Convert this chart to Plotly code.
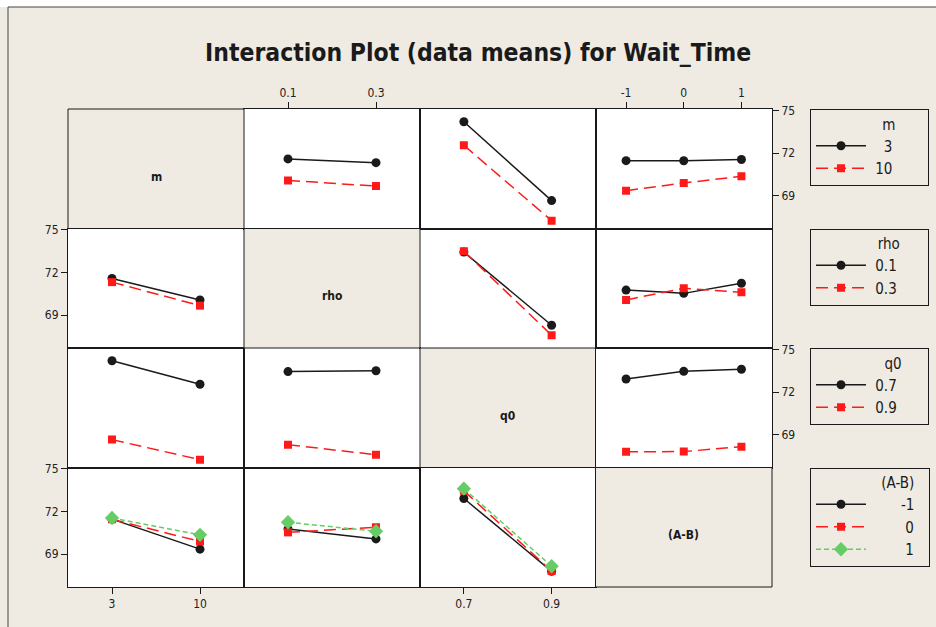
import plotly.graph_objects as go

W, H = 936, 627

# ---------------- data (means) ----------------
factors = ["m", "rho", "q0", "(A-B)"]
m_levels = ["3", "10"]
rho_levels = ["0.1", "0.3"]
q0_levels = ["0.7", "0.9"]
ab_levels = ["-1", "0", "1"]
levels = [m_levels, rho_levels, q0_levels, ab_levels]

# pair means: rows = levels of first factor, cols = levels of second factor
m_rho = [[71.59, 71.33], [70.08, 69.68]]
m_q0 = [[74.20, 68.66], [72.55, 67.25]]
m_ab = [[71.47, 71.46, 71.55], [69.36, 69.90, 70.37]]
rho_q0 = [[73.44, 68.30], [73.50, 67.60]]
rho_ab = [[70.77, 70.54, 71.25], [70.08, 70.90, 70.62]]
q0_ab = [[72.92, 73.46, 73.61], [67.80, 67.82, 68.16]]

y_ticks = [69, 72, 75]

pairs = {(0, 1): m_rho, (0, 2): m_q0, (0, 3): m_ab,
         (1, 2): rho_q0, (1, 3): rho_ab, (2, 3): q0_ab}


def means(r, c):
    if (r, c) in pairs:
        return pairs[(r, c)]
    t = pairs[(c, r)]
    return [list(col) for col in zip(*t)]


# ---------------- styling / geometry ----------------
BEIGE = "#efebe3"
INK = "#1a1a1a"
FAM = "DejaVu Sans Condensed, Liberation Sans, sans-serif"
TICKFONT = dict(family=FAM, size=12, color="#222")
LEGFONT = dict(family=FAM, size=15, color="#1a1a1a")
styles = [
    dict(color="#1a1a1a", dash="solid", symbol="circle", size=9),
    dict(color="#ff1a1a", dash="12px,6px", symbol="square", size=8),
    dict(color="#66cc66", dash="5px,3px", symbol="diamond", size=11),
]
NB = "\u00a0"
# (leading, trailing) non-breaking-space padding per legend, to mimic the right-aligned labels
leg_pad = {0: {"3": (3, 7), "10": (1, 7)},
           1: {"0.1": (1, 6), "0.3": (1, 6)},
           2: {"0.7": (1, 6), "0.9": (1, 6)},
           3: {"-1": (7, 2), "0": (8, 2), "1": (8, 2)}}
title_pad = [9, 9, 11, 13]

colx = [68, 244, 420, 595.5, 772]
rowy = [109, 228.5, 348, 467.5, 587]
YR = [66.7, 75.1]


def px_x(v):
    return v / W


def px_y(v):
    return 1 - v / H


fig = go.Figure()
layout = dict(
    width=W, height=H,
    margin=dict(l=0, r=0, t=0, b=0, autoexpand=False),
    paper_bgcolor=BEIGE, plot_bgcolor="white",
    showlegend=True,
)
shapes = []
annotations = []

k = 0
legend_done = set()
for r in range(4):
    for c in range(4):
        if r == c:
            shapes.append(dict(type="rect", xref="paper", yref="paper",
                               x0=px_x(colx[c]), x1=px_x(colx[c + 1]),
                               y0=px_y(rowy[r + 1]), y1=px_y(rowy[r]),
                               fillcolor=BEIGE, line=dict(color=INK, width=1)))
            annotations.append(dict(text="<b>%s</b>" % factors[r], xref="paper", yref="paper",
                                    x=px_x((colx[c] + colx[c + 1]) / 2),
                                    y=px_y((rowy[r] + rowy[r + 1]) / 2 + 8),
                                    xanchor="center", yanchor="middle",
                                    showarrow=False,
                                    font=dict(family=FAM, size=12, color=INK)))
            continue
        k += 1
        xa = "xaxis" if k == 1 else "xaxis%d" % k
        ya = "yaxis" if k == 1 else "yaxis%d" % k
        xr = "x" if k == 1 else "x%d" % k
        yr = "y" if k == 1 else "y%d" % k
        nx = len(levels[c])
        xpos = list(range(1, nx + 1))
        xrange = [0.5, 2.5] if nx == 2 else [0.47, 3.53]

        xcfg = dict(domain=[px_x(colx[c]), px_x(colx[c + 1])], anchor=yr, range=xrange,
                    showline=True, mirror=True, linecolor=INK, linewidth=1,
                    showgrid=False, zeroline=False, fixedrange=True,
                    tickvals=xpos, ticktext=levels[c], tickfont=TICKFONT,
                    ticks="", showticklabels=False)
        if r == 0 and c in (1, 3):
            xcfg.update(side="top", ticks="outside", ticklen=6, tickcolor=INK, showticklabels=True)
        if r == 3 and c in (0, 2):
            xcfg.update(side="bottom", ticks="outside", ticklen=6, tickcolor=INK, showticklabels=True)

        ycfg = dict(domain=[px_y(rowy[r + 1]), px_y(rowy[r])], anchor=xr, range=YR,
                    showline=True, mirror=True, linecolor=INK, linewidth=1,
                    showgrid=False, zeroline=False, fixedrange=True,
                    tickvals=y_ticks, tickfont=TICKFONT, ticks="", showticklabels=False)
        if c == 0 and r in (1, 3):
            ycfg.update(side="left", ticks="outside", ticklen=6, tickcolor=INK, showticklabels=True)
        if c == 3 and r in (0, 2):
            ycfg.update(side="right", ticks="outside", ticklen=6, tickcolor=INK, showticklabels=True)
        layout[xa] = xcfg
        layout[ya] = ycfg

        M = means(r, c)
        leg = "legend" if r == 0 else "legend%d" % (r + 1)
        show = r not in legend_done
        legend_done.add(r)
        for i, lvl in enumerate(levels[r]):
            st = styles[i]
            lead, trail = leg_pad[r][lvl]
            fig.add_trace(go.Scatter(
                x=xpos, y=M[i], xaxis=xr, yaxis=yr, mode="lines+markers",
                name=NB * lead + lvl + NB * trail, legend=leg, showlegend=show,
                line=dict(color=st["color"], width=1.5, dash=st["dash"]),
                marker=dict(symbol=st["symbol"], size=st["size"], color=st["color"]),
                hoverinfo="skip"))

# legends
for r in range(4):
    key = "legend" if r == 0 else "legend%d" % (r + 1)
    layout[key] = dict(
        x=px_x(810), y=px_y(rowy[r]), xanchor="left", yanchor="top",
        xref="paper", yref="paper",
        bordercolor=INK, borderwidth=1, bgcolor="rgba(0,0,0,0)",
        font=LEGFONT, itemwidth=50, tracegroupgap=0,
        title=dict(text=NB * title_pad[r] + factors[r], side="top center", font=LEGFONT),
    )

# title
annotations.append(dict(text="<b>Interaction Plot (data means) for Wait_Time</b>",
                        xref="paper", yref="paper", x=px_x(478), y=px_y(52),
                        xanchor="center", yanchor="middle",
                        showarrow=False,
                        font=dict(family="Liberation Sans Narrow, " + FAM, size=24.5, color=INK)))

# page frame
shapes.append(dict(type="rect", xref="paper", yref="paper", x0=0, x1=1, y0=px_y(7), y1=1,
                   fillcolor="white", line=dict(width=0), layer="below"))
shapes.append(dict(type="line", xref="paper", yref="paper", x0=px_x(8), x1=px_x(8),
                   y0=0, y1=px_y(7), line=dict(color="#444", width=1)))
shapes.append(dict(type="line", xref="paper", yref="paper", x0=px_x(8), x1=1,
                   y0=px_y(7), y1=px_y(7), line=dict(color="#444", width=1)))

layout["shapes"] = shapes
layout["annotations"] = annotations
fig.update_layout(**layout)
fig.write_html("out.html")
